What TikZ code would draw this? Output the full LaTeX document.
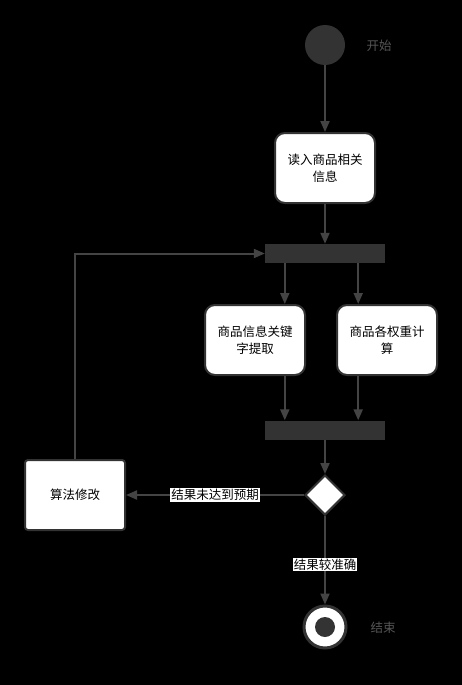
\documentclass[tikz,border=0pt]{standalone}
\usepackage{fontspec}
\usepackage{tikz}
\usetikzlibrary{shapes.geometric,arrows.meta,positioning,calc}
\newfontfamily\cjk{Noto Sans CJK SC}
\definecolor{dark}{RGB}{51,51,51}
\definecolor{wire}{RGB}{68,68,68}
\definecolor{lbl}{RGB}{85,85,85}

\begin{document}
\begin{tikzpicture}[x=1pt, y=-1pt,
    font=\cjk\fontsize{12.5}{17}\selectfont,
    act/.style={draw=dark, line width=2pt, fill=white, rounded corners=10pt,
      minimum width=100pt, minimum height=70pt, align=center, inner sep=2pt},
    bar/.style={fill=dark, minimum width=120pt, minimum height=19pt, inner sep=0pt},
    flow/.style={draw=wire, line width=2pt, -{Triangle[length=11pt,width=9pt]}},
    cond/.style={fill=white, text=black, inner sep=1pt}]
  % page
  \useasboundingbox[fill=black] (0,0) rectangle (462,685);
  % start
  \node[circle, fill=dark, minimum size=40pt, inner sep=0pt] (start) at (325,45) {};
  \node[text=lbl] (startlbl) at (379,46) {开始};
  \node[act] (readinfo) at (325,168) {读入商品相关\\信息};
  % fork / join bars
  \node[bar] (fork) at (325,253.5) {};
  \node[act] (keyword) at (255,340) {商品信息关键\\字提取};
  \node[act] (weight) at (387,340) {商品各权重计\\算};
  \node[bar] (join) at (325,430) {};
  % decision
  \node[diamond, draw=dark, line width=2pt, fill=white, minimum size=40pt,
    inner sep=0pt] (decide) at (325,495) {};
  \node[act, rounded corners=3pt] (modify) at (75,495) {算法修改};
  % end
  \node[circle, draw=dark, line width=3pt, fill=white, minimum size=42pt,
    inner sep=0pt] (end) at (325,627) {};
  \node[circle, fill=dark, minimum size=20pt, inner sep=0pt] (endcore) at (end) {};
  \node[text=lbl] (endlbl) at (383,628) {结束};
  % connectors
  \draw[flow] (start) -- (readinfo);
  \draw[flow] (readinfo) -- (fork);
  \draw[flow] ([xshift=20pt]fork.south west) -- ([xshift=20pt]fork.south west |- keyword.north);
  \draw[flow] ([xshift=-27pt]fork.south east) -- ([xshift=-27pt]fork.south east |- weight.north);
  \draw[flow] ([xshift=20pt]keyword.south -| join.west) -- ([xshift=20pt]join.north west);
  \draw[flow] ([xshift=-27pt]weight.south -| join.east) -- ([xshift=-27pt]join.north east);
  \draw[flow] (join) -- (decide);
  \draw[flow] (decide) -- node[cond] {结果未达到预期} (modify);
  \draw[flow] (decide) -- node[cond, pos=0.55] {结果较准确} (end);
  \draw[flow] (modify.north) |- (fork.west);
\end{tikzpicture}
\end{document}
